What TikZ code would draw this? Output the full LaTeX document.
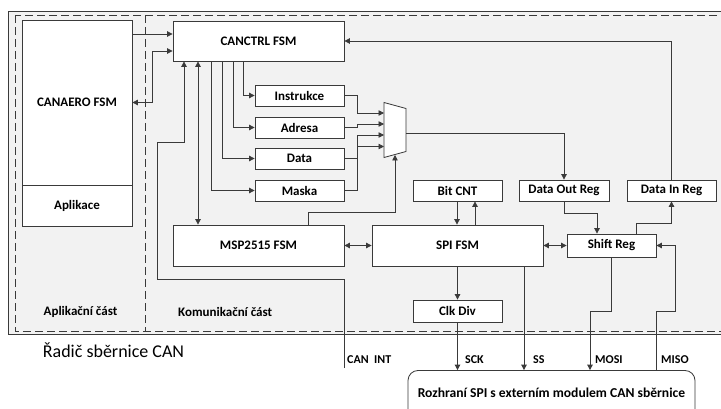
\documentclass[tikz,border=0pt]{standalone}
\usepackage{fontspec}
\setmainfont{Carlito}
\usetikzlibrary{arrows.meta}
\definecolor{bgc}{HTML}{F2F2F2}
\definecolor{lnc}{HTML}{3A3A3A}
\tikzset{
  box/.style={draw=lnc, fill=white, line width=0.8pt, inner sep=0pt, font=\fontsize{13}{15}\selectfont\bfseries},
  conn/.style={draw=lnc, line width=0.8pt},
  arr/.style={conn, -{Triangle[length=5.5pt,width=5.5pt]}},
  darr/.style={conn, {Triangle[length=5.5pt,width=5.5pt]}-{Triangle[length=5.5pt,width=5.5pt]}},
  sig/.style={anchor=west, inner sep=0pt, font=\fontsize{12}{14}\selectfont\bfseries},
  part/.style={inner sep=0pt, font=\fontsize{13}{15}\selectfont\bfseries}
}
\begin{document}
\begin{tikzpicture}[x=1pt, y=-1pt]
\useasboundingbox (0,0) rectangle (721,409);
\clip (0,0) rectangle (721,409);
% background frames
\fill[bgc] (8,11) rectangle (730,334);
\draw[lnc, line width=0.8pt] (8,11) rectangle (730,334);
\draw[lnc, line width=0.8pt, dash pattern=on 8pt off 4pt] (15,15) rectangle (728,331);
\draw[lnc, line width=0.8pt, dash pattern=on 8pt off 4pt] (145,15) -- (145,331);
% nodes
\node[box, minimum width=110pt, minimum height=165pt] (canaero) at (77,102.5) {CANAERO FSM};
\node[box, minimum width=110pt, minimum height=41pt] (aplikace) at (77,205.5) {Aplikace};
\node[box, minimum width=171pt, minimum height=40pt] (canctrl) at (258.5,41) {CANCTRL FSM};
\node[box, minimum width=89pt, minimum height=21pt] (instr) at (299.5,95.5) {Instrukce};
\node[box, minimum width=89pt, minimum height=21pt] (adresa) at (299.5,127.5) {Adresa};
\node[box, minimum width=89pt, minimum height=21pt] (data) at (299.5,158.5) {Data};
\node[box, minimum width=89pt, minimum height=21pt] (maska) at (299.5,190.5) {Maska};
\node[box, minimum width=171pt, minimum height=41pt] (msp) at (258.5,245.5) {MSP2515 FSM};
\node[box, minimum width=171pt, minimum height=41pt] (spi) at (457.5,245.5) {SPI FSM};
\node[box, minimum width=89pt, minimum height=21pt] (bitcnt) at (457.5,190.5) {Bit CNT};
\node[box, minimum width=90pt, minimum height=21pt] (dataout) at (564,190.5) {Data Out Reg};
\node[box, minimum width=89pt, minimum height=21pt] (datain) at (671.5,190.5) {Data In Reg};
\node[box, minimum width=89pt, minimum height=23pt] (shift) at (611.5,245.5) {Shift Reg};
\node[box, minimum width=89pt, minimum height=22pt] (clkdiv) at (457.5,311) {Clk Div};
\node[box, rounded corners=10pt, minimum width=287pt, minimum height=50pt] (rozhrani) at (551.5,395.5) {};
\node[part, font=\fontsize{13.6}{15}\selectfont\bfseries] (roztext) at (551.5,392.5) {Rozhraní SPI s externím modulem CAN sběrnice};
% mux
\filldraw[draw=lnc, fill=white, line width=0.8pt] (384,102.5) -- (406,108.5) -- (406,151.5) -- (384,157.5) -- cycle;
\coordinate (muxout) at (406,133);
\coordinate (muxsel) at (395,155);
% part labels
\node[part] (aplpart) at (80.5,311.5) {Aplikační část};
\node[part, anchor=west] (kompart) at (178,311.5) {Komunikační část};
\node[inner sep=0pt, font=\fontsize{18}{20}\selectfont] (radic) at (113.5,350) {Řadič sběrnice CAN};
% connectors
\draw[arr] (canaero.east |- 0,34) -- (canctrl.west |- 0,34);
\draw[darr] (canaero.east) -- (152,102.5) -- (152,51) -- (canctrl.west |- 0,51);
\draw[arr] (datain.north) -- (671.5,41) -- (canctrl.east);
\coordinate (canint) at (344,368);
\draw[arr] (canint) -- (344,279) -- (157,279) -- (157,142) -- (184,142) -- (canctrl.south -| 184,0);
\draw[darr] (canctrl.south -| 198,0) -- (msp.north -| 198,0);
\draw[arr] (canctrl.south -| 243,0) -- (243,95.5) -- (instr.west);
\draw[arr] (canctrl.south -| 233,0) -- (233,127.5) -- (adresa.west);
\draw[arr] (canctrl.south -| 222,0) -- (222,158.5) -- (data.west);
\draw[arr] (canctrl.south -| 211,0) -- (211,190.5) -- (maska.west);
\draw[arr] (instr.east) -- (357,95.5) -- (357,113) -- (384,113);
\draw[arr] (adresa.east) -- (357,127.5) -- (357,124) -- (384,124);
\draw[arr] (data.east) -- (357,158.5) -- (357,135) -- (384,135);
\draw[arr] (maska.east) -- (357,190.5) -- (357,146.5) -- (384,146.5);
\draw[arr] (muxout) -- (564,133) -- (dataout.north);
\draw[arr] (msp.north -| 308,0) -- (308,212) -- (395,212) -- (muxsel);
\draw[darr] (msp.east) -- (spi.west);
\draw[arr] (bitcnt.south -| 457,0) -- (spi.north -| 457,0);
\draw[arr] (spi.north -| 475,0) -- (bitcnt.south -| 475,0);
\draw[darr] (spi.east) -- (shift.west);
\draw[arr] (dataout.south) -- (564,213) -- (597,213) -- (shift.north -| 597,0);
\draw[arr] (shift.north -| 636,0) -- (636,223) -- (671.5,223) -- (datain.south);
\draw[arr] (rozhrani.north -| 656,0) -- (656,311) -- (675,311) -- (675,245.5) -- (shift.east);
\draw[arr] (shift.south) -- (611.5,311) -- (590,311) -- (rozhrani.north -| 590,0);
\draw[arr] (spi.south -| 457.5,0) -- (clkdiv.north);
\draw[arr] (clkdiv.south) -- (rozhrani.north -| 457.5,0);
\draw[arr] (spi.south -| 524,0) -- (rozhrani.north -| 524,0);
% signal labels
\node[sig] (lcanint) at (347,360) {CAN\ \ INT};
\node[sig] (lsck) at (465,360) {SCK};
\node[sig] (lss) at (533,360) {SS};
\node[sig] (lmosi) at (595,360) {MOSI};
\node[sig] (lmiso) at (661,360) {MISO};
\end{tikzpicture}
\end{document}
